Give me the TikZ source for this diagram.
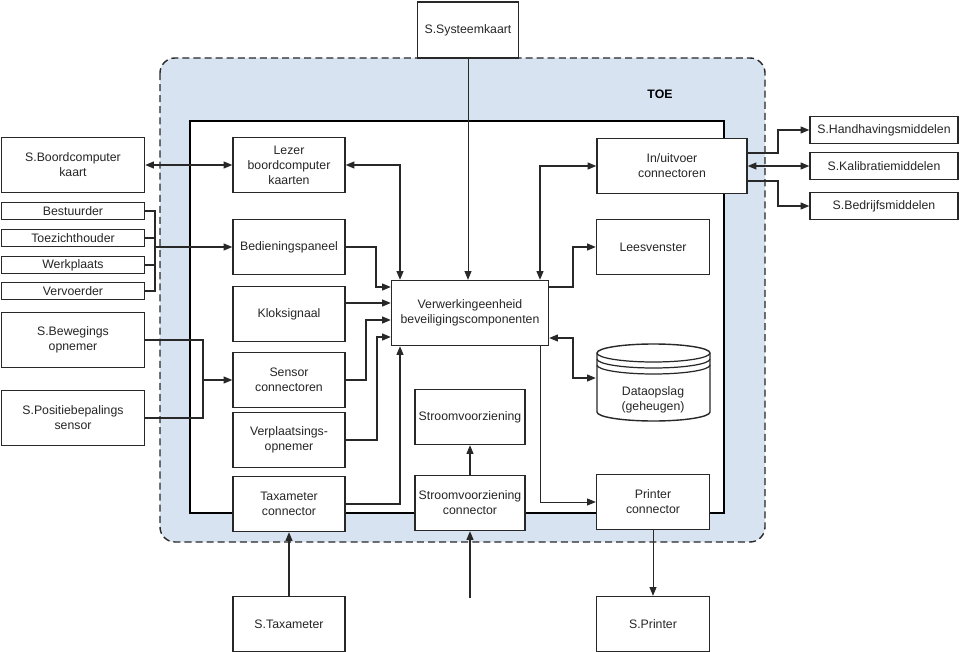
\documentclass[tikz,border=0pt]{standalone}
\usepackage{fontspec}
\setmainfont{Liberation Sans}
\usetikzlibrary{arrows.meta,positioning}
\definecolor{toeblue}{RGB}{216,227,241}
\definecolor{edge}{RGB}{40,40,40}

\begin{document}
\begin{tikzpicture}[
    x=0.02cm, y=-0.02cm,
    blk/.style={rectangle, draw=edge, line width=0.8pt, fill=white, align=center, inner sep=1pt, minimum width=2.24cm, minimum height=1.1cm, font=\fontsize{7}{8.5}\selectfont, text=black!85},
    ext/.style={blk, minimum width=2.86cm},
    slim/.style={ext, minimum height=0.34cm},
    side/.style={blk, minimum width=2.96cm, minimum height=0.55cm},
    link/.style={draw=edge, line width=0.7pt},
    >={Triangle[length=5pt,width=4pt]}
]
    \useasboundingbox (0,0) rectangle (964,652);

    % TOE area
    \draw[fill=toeblue, draw=edge, line width=0.8pt, dash pattern=on 4pt off 2.3pt, rounded corners=0.3cm] (160,58) rectangle (765,542);
    \node[font=\fontsize{7}{8.5}\selectfont\bfseries] (toe) at (660,94) {TOE};
    \draw[fill=white, draw=black, line width=1.4pt] (190,121) rectangle (724,513);

    % Inner components
    \node[blk] (lezer) at (289,165) {Lezer\\boordcomputer\\kaarten};
    \node[blk] (bed) at (289,247) {Bedieningspaneel};
    \node[blk] (klok) at (289,314) {Kloksignaal};
    \node[blk] (sens) at (289,380) {Sensor\\connectoren};
    \node[blk] (verpl) at (289,440) {Verplaatsings-\\opnemer};
    \node[blk] (taxc) at (289,504) {Taxameter\\connector};
    \node[blk, minimum width=3.14cm, minimum height=1.3cm] (verw) at (470,313) {Verwerkingeenheid\\beveiligingscomponenten};
    \node[blk, minimum width=2.2cm] (stroom) at (470,417) {Stroomvoorziening};
    \node[blk, minimum width=2.2cm] (stroomc) at (470,503) {Stroomvoorziening\\connector};
    \node[blk, minimum width=3.0cm] (io) at (672,166) {In/uitvoer\\connectoren};
    \node[blk, minimum width=2.26cm] (lees) at (653,247) {Leesvenster};
    \node[blk, minimum width=2.26cm] (printc) at (653,502) {Printer\\connector};

    % Data storage
    \draw[draw=edge, line width=0.8pt, fill=white] (597,353) -- (597,412) arc[start angle=180, end angle=360, x radius=1.13cm, y radius=0.18cm] -- (710,353) arc[start angle=0, end angle=180, x radius=1.13cm, y radius=0.18cm] -- cycle;
    \draw[draw=edge, line width=0.7pt] (597,353) arc[start angle=180, end angle=360, x radius=1.13cm, y radius=0.18cm];
    \draw[draw=edge, line width=0.7pt] (597,359) arc[start angle=180, end angle=360, x radius=1.13cm, y radius=0.18cm];
    \draw[draw=edge, line width=0.7pt] (597,365) arc[start angle=180, end angle=360, x radius=1.13cm, y radius=0.18cm];
    \node[blk, draw=none, fill=none, minimum width=2.26cm, minimum height=0.6cm] (data) at (653,400) {Dataopslag\\(geheugen)};

    % External parties
    \node[blk, minimum width=2.02cm, minimum height=1.12cm] (sys) at (468,30) {S.Systeemkaart};
    \node[ext] (sboord) at (73,165) {S.Boordcomputer\\kaart};
    \node[slim] (best) at (73,211) {Bestuurder};
    \node[slim] (toez) at (73,238) {Toezichthouder};
    \node[slim] (werk) at (73,265) {Werkplaats};
    \node[slim] (verv) at (73,291) {Vervoerder};
    \node[ext] (sbew) at (73,340) {S.Bewegings\\opnemer};
    \node[ext] (spos) at (73,418) {S.Positiebepalings\\sensor};
    \node[side] (shand) at (884,130) {S.Handhavingsmiddelen};
    \node[side] (skal) at (884,166) {S.Kalibratiemiddelen};
    \node[side] (sbedr) at (884,206) {S.Bedrijfsmiddelen};
    \node[blk] (staxa) at (289,624) {S.Taxameter};
    \node[blk, minimum width=2.26cm] (sprint) at (653,624) {S.Printer};

    \coordinate (brk) at (155,247);
    \coordinate (sjoin) at (203,380);
    \coordinate (pwr) at (470,598);

    % Connections left
    \draw[link, <->] (sboord.east) -- (lezer.west);
    \draw[link] (best.east) -- (best.east -| brk) -- (verv.east -| brk) -- (verv.east);
    \draw[link] (toez.east) -- (toez.east -| brk);
    \draw[link] (werk.east) -- (werk.east -| brk);
    \draw[link, ->] (brk) -- (bed.west);
    \draw[link] (sbew.east) -| (sjoin);
    \draw[link] (spos.east) -| (sjoin);
    \draw[link, ->] (sjoin) -- (sens.west);

    % Into the processing unit
    \draw[link, <->] (lezer.east) -| (verw.north -| 400,0);
    \draw[link, ->, line width=0.5pt] (sys.south) -- (sys.south |- verw.north);
    \draw[link, <->] (io.west) -| (verw.north -| 540,0);
    \draw[link, ->] (bed.east) -| (376,287) -- (verw.west |- 0,287);
    \draw[link, ->] (klok.east |- 0,303) -- (verw.west |- 0,303);
    \draw[link, ->] (sens.east) -| (366,320) -- (verw.west |- 0,320);
    \draw[link, ->] (verpl.east) -| (377,337) -- (verw.west |- 0,337);
    \draw[link, ->] (taxc.east) -| (verw.south -| 400,0);

    % Out of the processing unit
    \draw[link, ->] (verw.east |- 0,287) -| (573,247) -- (lees.west);
    \draw[link, <->] (verw.east |- 0,338) -| (573,378) -- (data.west |- 0,378);
    \draw[link, ->, line width=0.5pt] (verw.south -| 540,0) |- (printc.west);

    % Power and bottom
    \draw[link, ->] (stroomc.north) -- (stroom.south);
    \draw[link, ->] (pwr) -- (stroomc.south);
    \draw[link, ->] (staxa.north) -- (taxc.south);
    \draw[link, ->, line width=0.5pt] (printc.south) -- (sprint.north);

    % Connections right
    \draw[link, ->] (io.east |- 0,153) -| (778,130) -- (shand.west);
    \draw[link, <->] (io.east) -- (skal.west);
    \draw[link, ->] (io.east |- 0,181) -| (778,206) -- (sbedr.west);
\end{tikzpicture}
\end{document}
